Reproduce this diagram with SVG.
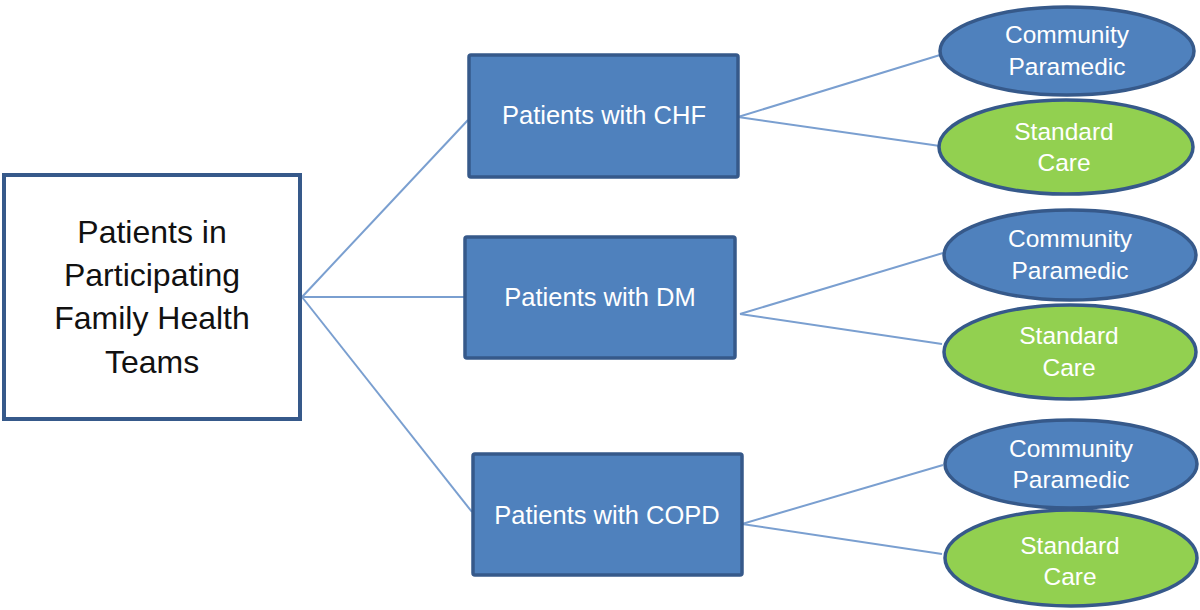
<svg xmlns="http://www.w3.org/2000/svg" width="1200" height="610" viewBox="0 0 1200 610">
<style>
.conn{stroke:#7a9fd0;stroke-width:2;fill:none}
.box{fill:#4f81bd;stroke:#36598a;stroke-width:3.5}
.root{fill:#ffffff;stroke:#36598a;stroke-width:4}
.cp{fill:#4f81bd;stroke:#36598a;stroke-width:3.5}
.sc{fill:#92d050;stroke:#36598a;stroke-width:3.5}
.t{font-family:"Liberation Sans",Arial,sans-serif;text-anchor:middle}
.tw{fill:#ffffff;font-size:25.5px}
.te{fill:#ffffff;font-size:24.5px}
.tr{fill:#111111;font-size:32px}
.tg{fill:#ffffff;font-size:24.5px}
</style>
<rect width="1200" height="610" fill="#ffffff"/>
<g id="connectors">
<line class="conn" x1="302" y1="297" x2="468" y2="120"/>
<line class="conn" x1="302" y1="297" x2="465" y2="297"/>
<line class="conn" x1="302" y1="297" x2="472" y2="512"/>
<line class="conn" x1="738" y1="117" x2="940" y2="55"/>
<line class="conn" x1="738" y1="117" x2="940" y2="146"/>
<line class="conn" x1="740" y1="314" x2="943" y2="253"/>
<line class="conn" x1="740" y1="314" x2="942" y2="344"/>
<line class="conn" x1="742" y1="524" x2="943" y2="465"/>
<line class="conn" x1="742" y1="524" x2="942" y2="554"/>
</g>
<g id="root">
<rect class="root" x="4" y="175" width="296" height="244"/>
<text class="t tr" x="152" y="243">Patients in</text>
<text class="t tr" x="152" y="286">Participating</text>
<text class="t tr" x="152" y="329">Family Health</text>
<text class="t tr" x="152" y="373">Teams</text>
</g>
<g id="chf">
<rect class="box" x="469" y="55" width="269" height="122" rx="2"/>
<text class="t tw" x="604" y="124">Patients with CHF</text>
</g>
<g id="dm">
<rect class="box" x="465" y="237" width="270" height="121" rx="2"/>
<text class="t tw" x="600" y="306">Patients with DM</text>
</g>
<g id="copd">
<rect class="box" x="473" y="454" width="269" height="121" rx="2"/>
<text class="t tw" x="607" y="524">Patients with COPD</text>
</g>
<g id="cp1">
<ellipse class="cp" cx="1067" cy="51" rx="127" ry="44"/>
<text class="t te" x="1067" y="43">Community</text>
<text class="t te" x="1067" y="75">Paramedic</text>
</g>
<g id="sc1">
<ellipse class="sc" cx="1066" cy="147" rx="127" ry="47"/>
<text class="t tg" x="1064" y="140">Standard</text>
<text class="t tg" x="1064" y="171">Care</text>
</g>
<g id="cp2">
<ellipse class="cp" cx="1070" cy="255" rx="126" ry="45"/>
<text class="t te" x="1070" y="247">Community</text>
<text class="t te" x="1070" y="279">Paramedic</text>
</g>
<g id="sc2">
<ellipse class="sc" cx="1070" cy="352" rx="126" ry="47"/>
<text class="t tg" x="1069" y="344">Standard</text>
<text class="t tg" x="1069" y="376">Care</text>
</g>
<g id="cp3">
<ellipse class="cp" cx="1071" cy="464" rx="126" ry="44"/>
<text class="t te" x="1071" y="457">Community</text>
<text class="t te" x="1071" y="488">Paramedic</text>
</g>
<g id="sc3">
<ellipse class="sc" cx="1071" cy="558" rx="126" ry="48"/>
<text class="t tg" x="1070" y="554">Standard</text>
<text class="t tg" x="1070" y="585">Care</text>
</g>
</svg>
